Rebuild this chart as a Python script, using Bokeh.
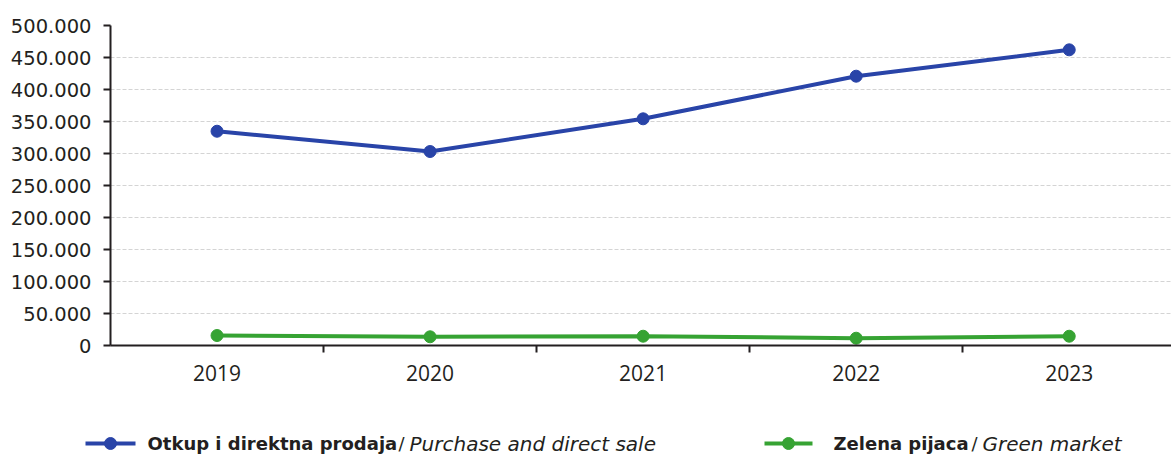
from bokeh.plotting import figure
from bokeh.models import FixedTicker, Range1d
from bokeh.layouts import column
from bokeh.embed import file_html
from bokeh.resources import INLINE
from bokeh.core.properties import value

years = [2019, 2020, 2021, 2022, 2023]
purchase = [334800, 303100, 354200, 420800, 462000]
green_market = [15600, 13600, 14500, 11400, 14500]
y_ticks = [0, 50000, 100000, 150000, 200000, 250000, 300000, 350000, 400000, 450000, 500000]
y_tick_labels = ["0", "50.000", "100.000", "150.000", "200.000", "250.000",
                 "300.000", "350.000", "400.000", "450.000", "500.000"]
series1_bold = "Otkup i direktna prodaja"
series1_italic = "Purchase and direct sale"
series2_bold = "Zelena pijaca"
series2_italic = "Green market"

BLUE = "#2944a8"
GREEN = "#36a333"
AXIS = "#231f20"
TEXT = "#231f20"

p = figure(width=1171, height=400, output_backend="svg", toolbar_location=None,
           x_range=Range1d(years[0] - 0.5, years[-1] + 0.48),
           y_range=Range1d(y_ticks[0], y_ticks[-1]),
           min_border_left=110, min_border_top=25, min_border_bottom=55,
           min_border_right=0)
p.outline_line_color = None
p.background_fill_color = "white"
p.frame_align = False

p.line(years, purchase, line_color=BLUE, line_width=4)
p.scatter(years, purchase, size=12, fill_color=BLUE, line_color=BLUE)
p.line(years, green_market, line_color=GREEN, line_width=4)
p.scatter(years, green_market, size=12, fill_color=GREEN, line_color=GREEN)

# x axis
p.xaxis.ticker = FixedTicker(ticks=years, minor_ticks=[y + 0.5 for y in years[:-1]])
p.xaxis.major_tick_out = 0
p.xaxis.major_tick_in = 0
p.xaxis.minor_tick_out = 7
p.xaxis.minor_tick_in = 0
p.xaxis.minor_tick_line_color = AXIS
p.xaxis.minor_tick_line_width = 2
p.xaxis.axis_line_color = AXIS
p.xaxis.axis_line_width = 2
p.xaxis.major_label_text_font = "Open Sans"
p.xaxis.major_label_text_font_size = "21px"
p.xaxis.major_label_text_color = TEXT
p.xaxis.major_label_standoff = 12

# y axis
p.yaxis.ticker = FixedTicker(ticks=y_ticks)
p.yaxis.major_label_overrides = {t: l for t, l in zip(y_ticks, y_tick_labels)}
p.yaxis.major_tick_out = 7
p.yaxis.major_tick_in = 0
p.yaxis.minor_tick_out = 0
p.yaxis.minor_tick_in = 0
p.yaxis.major_tick_line_color = AXIS
p.yaxis.major_tick_line_width = 2
p.yaxis.axis_line_color = AXIS
p.yaxis.axis_line_width = 2
p.yaxis.major_label_text_font = "DejaVu Sans"
p.yaxis.major_label_text_font_size = "19.5px"
p.yaxis.major_label_text_color = TEXT
p.yaxis.major_label_standoff = 12

p.xgrid.grid_line_color = None
p.ygrid.grid_line_color = "#d4d4d4"
p.ygrid.grid_line_dash = "4 2"
p.ygrid.grid_line_width = 1

# legend strip below the chart (pixel-like coordinates)
lg = figure(width=1171, height=56, output_backend="svg", toolbar_location=None,
            x_range=Range1d(0, 1171), y_range=Range1d(0, 56),
            min_border_left=0, min_border_right=0, min_border_top=0, min_border_bottom=0)
lg.frame_align = False
lg.axis.visible = False
lg.grid.grid_line_color = None
lg.outline_line_color = None

LEG_FONT = "DejaVu Sans"
legend_entries = [
    (BLUE, 85, 135, 147, series1_bold, 398, 409, series1_italic),
    (GREEN, 764, 812, 833, series2_bold, 971, 982, series2_italic),
]
LY = 13
for color, x0, x1, xt, bold, xs, xi, ital in legend_entries:
    lg.line([x0, x1], [LY, LY], line_color=color, line_width=4)
    lg.scatter([(x0 + x1) / 2], [LY], size=12, fill_color=color, line_color=color)
    lg.text([xt], [LY], text=[bold], text_font=value(LEG_FONT), text_font_style="bold",
            text_font_size="18px", text_color=TEXT, text_baseline="middle", text_align="left")
    lg.text([xs], [LY], text=["/"], text_font=value(LEG_FONT), text_font_style="normal",
            text_font_size="18px", text_color=TEXT, text_baseline="middle", text_align="left")
    lg.text([xi], [LY], text=[ital], text_font=value(LEG_FONT), text_font_style="italic",
            text_font_size="20px", text_color=TEXT, text_baseline="middle", text_align="left")

layout = column(p, lg, spacing=0)
open("out.html", "w").write(file_html(layout, INLINE))
